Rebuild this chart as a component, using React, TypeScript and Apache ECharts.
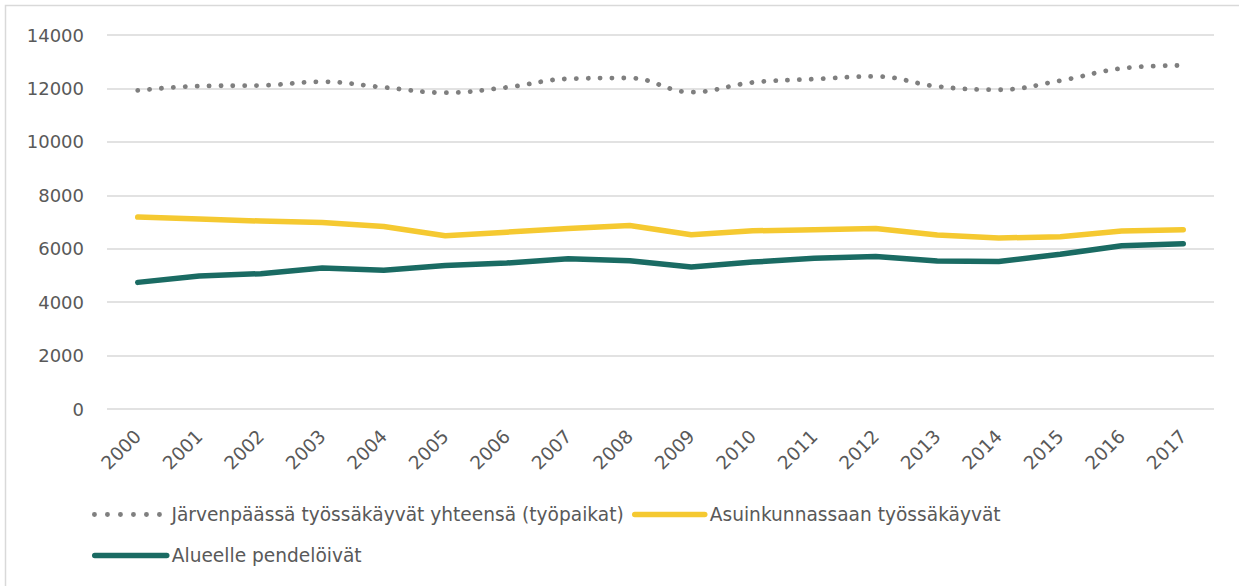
import React, { useEffect, useRef } from "react";
import * as echarts from "echarts";

const years = ["2000","2001","2002","2003","2004","2005","2006","2007","2008","2009","2010","2011","2012","2013","2014","2015","2016","2017"];
const totalJobs = [11925, 12090, 12110, 12250, 12040, 11840, 12040, 12360, 12390, 11860, 12225, 12350, 12450, 12075, 11950, 12290, 12750, 12860];
const ownMunicipality = [7185, 7110, 7035, 6985, 6835, 6485, 6620, 6760, 6870, 6525, 6670, 6710, 6760, 6510, 6400, 6450, 6660, 6710];
const commuters = [4740, 4980, 5065, 5280, 5190, 5375, 5465, 5625, 5550, 5315, 5500, 5640, 5710, 5540, 5525, 5790, 6110, 6185];
const seriesNames = [
  "Järvenpäässä työssäkäyvät yhteensä (työpaikat)",
  "Asuinkunnassaan työssäkäyvät",
  "Alueelle pendelöivät",
];

const FONT = "DejaVu Sans";
const TEXT = "#595959";
const GREY = "#7f7f7f";
const YELLOW = "#f5c931";
const GREEN = "#1a6b63";

export default function App() {
  const ref = useRef<HTMLDivElement>(null);
  useEffect(() => {
    if (!ref.current) return;
    const chart = echarts.init(ref.current, undefined, { renderer: "svg" });
    const legendText = { color: TEXT, fontSize: 18.6, fontFamily: FONT };
    const legendBase = {
      itemHeight: 14,
      padding: 0,
      textStyle: legendText,
      selectedMode: false,
      itemStyle: { opacity: 0 },
    };
    chart.setOption({
      animation: false,
      backgroundColor: "#ffffff",
      graphic: [
        {
          type: "rect",
          shape: { x: 5.5, y: 5.5, width: 1300, height: 700 },
          style: { fill: "none", stroke: "#d9d9d9", lineWidth: 1.5 },
          silent: true,
        },
      ],
      grid: { left: 107, right: 25, top: 35, bottom: 177, containLabel: false },
      xAxis: {
        type: "category",
        data: years,
        boundaryGap: true,
        axisLine: { show: false },
        axisTick: { show: false },
        axisLabel: { rotate: 45, color: TEXT, fontSize: 18.5, fontFamily: FONT, margin: 24, interval: 0 },
      },
      yAxis: {
        type: "value",
        min: 0,
        max: 14000,
        interval: 2000,
        axisLine: { show: false },
        axisTick: { show: false },
        axisLabel: {
          color: TEXT,
          fontSize: 18,
          fontFamily: FONT,
          margin: 23,
          formatter: (v: number) => String(v),
        },
        splitLine: { lineStyle: { color: "#d9d9d9", width: 1.5 } },
      },
      legend: [
        {
          ...legendBase,
          data: [seriesNames[0]],
          left: 92,
          top: 505,
          itemWidth: 72,
          lineStyle: { width: 4.8, color: GREY, type: [0.1, 12.9], cap: "round" },
        },
        {
          ...legendBase,
          data: [seriesNames[1]],
          left: 632,
          top: 505,
          itemWidth: 70,
          lineStyle: { width: 5.5, color: YELLOW, cap: "round" },
        },
        {
          ...legendBase,
          data: [seriesNames[2]],
          left: 92,
          top: 546,
          itemWidth: 72,
          lineStyle: { width: 5.5, color: GREEN, cap: "round" },
        },
      ],
      series: [
        {
          name: seriesNames[0],
          type: "line",
          data: totalJobs,
          smooth: 0.4,
          symbol: "none",
          lineStyle: { color: GREY, width: 4.8, type: [0.1, 11.8], cap: "round" },
          itemStyle: { color: GREY },
        },
        {
          name: seriesNames[1],
          type: "line",
          data: ownMunicipality,
          symbol: "none",
          lineStyle: { color: YELLOW, width: 5.5, cap: "round", join: "round" },
          itemStyle: { color: YELLOW },
        },
        {
          name: seriesNames[2],
          type: "line",
          data: commuters,
          symbol: "none",
          lineStyle: { color: GREEN, width: 5.5, cap: "round", join: "round" },
          itemStyle: { color: GREEN },
        },
      ],
    });
    return () => chart.dispose();
  }, []);
  return <div ref={ref} style={{ width: 1239, height: 586, position: "absolute", left: 0, top: 0 }} />;
}
